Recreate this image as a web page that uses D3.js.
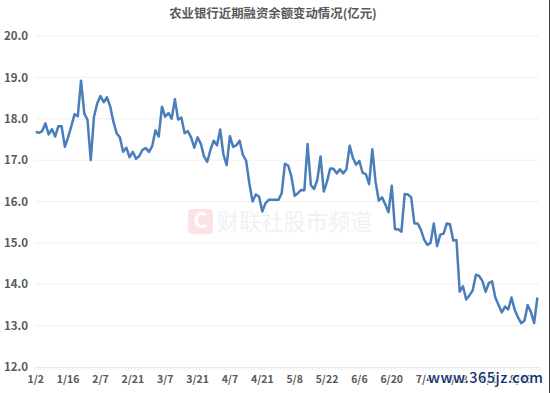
<!DOCTYPE html>
<html>
<head>
<meta charset="utf-8">
<script src="https://cdn.jsdelivr.net/npm/d3@7"></script>
<style>
  html, body { margin: 0; padding: 0; background: #fff; }
  text { font-family: "Noto Sans CJK SC", "Noto Sans", sans-serif; }
</style>
</head>
<body>
<svg id="chart"></svg>
<script>
// Financing balance (100 million yuan)
var balance = [
  17.68, 17.66, 17.70, 17.89, 17.62, 17.75, 17.57, 17.82, 17.82, 17.32,
  17.55, 17.82, 18.11, 18.06, 18.92, 18.13, 17.97, 17.00, 18.05, 18.37,
  18.55, 18.40, 18.52, 18.30, 17.93, 17.65, 17.55, 17.20, 17.30, 17.07,
  17.20, 17.03, 17.10, 17.25, 17.29, 17.20, 17.34, 17.72, 17.57, 18.29,
  18.05, 18.14, 18.00, 18.47, 17.98, 18.03, 17.65, 17.70, 17.55, 17.30,
  17.55, 17.40, 17.09, 16.96, 17.25, 17.47, 17.36, 17.74, 17.13, 16.88,
  17.58, 17.32, 17.36, 17.47, 17.13, 16.99, 16.44, 16.00, 16.17, 16.12,
  15.76, 15.96, 16.04, 16.04, 16.04, 16.04, 16.20, 16.91, 16.87, 16.60,
  16.14, 16.20, 16.28, 16.27, 17.39, 16.40, 16.30, 16.52, 17.09, 16.24,
  16.48, 16.80, 16.79, 16.68, 16.78, 16.68, 16.78, 17.35, 17.05, 16.89,
  16.98, 16.69, 16.66, 16.42, 17.26, 16.48, 16.02, 16.10, 15.93, 15.74,
  16.38, 15.33, 15.33, 15.27, 16.18, 16.17, 16.10, 15.47, 15.47, 15.32,
  15.08, 14.95, 15.00, 15.47, 14.92, 15.20, 15.22, 15.47, 15.45, 15.06,
  15.07, 13.82, 13.95, 13.63, 13.73, 13.85, 14.23, 14.20, 14.08, 13.82,
  14.03, 14.07, 13.68, 13.50, 13.32, 13.46, 13.39, 13.68, 13.38, 13.20,
  13.06, 13.12, 13.50, 13.33, 13.06, 13.68
];
var dateLabels = ["1/2", "1/16", "2/7", "2/21", "3/7", "3/21", "4/7", "4/21",
                  "5/8", "5/22", "6/6", "6/20", "7/4", "7/18", "8/1", "8/15"];
var yTicks = [12, 13, 14, 15, 16, 17, 18, 19, 20];
var chartTitle = "农业银行近期融资余额变动情况(亿元)";
var labelEvery = 10;

var width = 550, height = 393;
var margin = {top: 36, right: 11, bottom: 26, left: 35};

var svg = d3.select("#chart")
    .attr("width", width)
    .attr("height", height)
    .style("display", "block");

svg.append("rect")
    .attr("width", width)
    .attr("height", height)
    .attr("fill", "#fff");

// One band per trading day, line points sit in the middle of the band
var x = d3.scaleBand()
    .domain(d3.range(balance.length))
    .range([margin.left - 0.9, width - margin.right]);

var xEdge = d3.scaleLinear()
    .domain([0, balance.length])
    .range(x.range());

var y = d3.scaleLinear()
    .domain([12, 20])
    .range([height - margin.bottom, margin.top]);

// Watermark goes under everything else
var mark = svg.append("g").attr("class", "watermark");
mark.append("rect")
    .attr("x", 188).attr("y", 209)
    .attr("width", 25).attr("height", 25)
    .attr("rx", 4)
    .attr("fill", "#fbe3e3");
mark.append("text")
    .attr("x", 200.5).attr("y", 228)
    .attr("text-anchor", "middle")
    .attr("font-size", 21)
    .attr("font-weight", 700)
    .attr("fill", "#fff")
    .text("C");
mark.append("text")
    .attr("x", 217).attr("y", 229.5)
    .attr("font-size", 22.2)
    .attr("fill", "#f1f1f1")
    .text("财联社股市频道");

// Grid lines
svg.append("g")
    .selectAll("line")
    .data(yTicks.slice(1))
    .enter().append("line")
    .attr("x1", margin.left)
    .attr("x2", width - margin.right)
    .attr("y1", function(d) { return y(d); })
    .attr("y2", function(d) { return y(d); })
    .attr("stroke", "#f0f0f0")
    .attr("stroke-width", 1);

// Y axis labels
var yAxis = svg.append("g")
    .attr("transform", "translate(" + margin.left + ",0)")
    .call(d3.axisLeft(y).tickValues(yTicks).tickSize(0).tickPadding(7)
        .tickFormat(d3.format(".1f")));
yAxis.select(".domain").remove();
yAxis.selectAll("text")
    .attr("font-size", 11.5)
    .attr("font-weight", 600)
    .attr("font-family", "'Open Sans', sans-serif")
    .attr("fill", "#595959");

// X axis: small ticks on band edges
var edgeAxis = svg.append("g")
    .attr("transform", "translate(0," + y(12) + ")")
    .call(d3.axisBottom(xEdge)
        .tickValues(d3.range(0, balance.length + 1))
        .tickSize(3)
        .tickFormat(""));
edgeAxis.select(".domain").attr("stroke", "#ebebeb");
edgeAxis.selectAll("line").attr("stroke", "#ebebeb");

// X axis labels, every 10th trading day
var labelAxis = svg.append("g")
    .attr("transform", "translate(0," + y(12) + ")")
    .call(d3.axisBottom(x)
        .tickValues(dateLabels.map(function(d, i) { return i * labelEvery; }))
        .tickSize(0)
        .tickPadding(9)
        .tickFormat(function(d) { return dateLabels[d / labelEvery]; }));
labelAxis.select(".domain").remove();
labelAxis.selectAll("text")
    .attr("font-size", 10.5)
    .attr("font-weight", 600)
    .attr("font-family", "'Open Sans', sans-serif")
    .attr("fill", "#595959");

// The line
var line = d3.line()
    .x(function(d, i) { return x(i) + x.bandwidth() / 2; })
    .y(function(d) { return y(d); });

svg.append("path")
    .datum(balance)
    .attr("d", line)
    .attr("fill", "none")
    .attr("stroke", "#4a7ebb")
    .attr("stroke-width", 2.5)
    .attr("stroke-linejoin", "round");

// Title
svg.append("text")
    .attr("x", 273)
    .attr("y", 18)
    .attr("text-anchor", "middle")
    .attr("font-size", 12.4)
    .attr("font-weight", 700)
    .attr("fill", "#595959")
    .text(chartTitle);

// Site stamp sits over the last labels, with a white halo that fades them
svg.append("text")
    .attr("x", 428)
    .attr("y", 383)
    .attr("font-family", "'DejaVu Serif', serif")
    .attr("font-size", 14.5)
    .attr("font-weight", 500)
    .attr("fill", "#12326e")
    .attr("stroke", "rgba(255,255,255,0.75)")
    .attr("stroke-width", 2.5)
    .attr("paint-order", "stroke")
    .attr("textLength", 115)
    .text("www.365jz.com");

// Dark edge of the image
svg.append("line")
    .attr("x1", 549.5).attr("x2", 549.5)
    .attr("y1", 0).attr("y2", height)
    .attr("stroke", "#444");
</script>
</body>
</html>
